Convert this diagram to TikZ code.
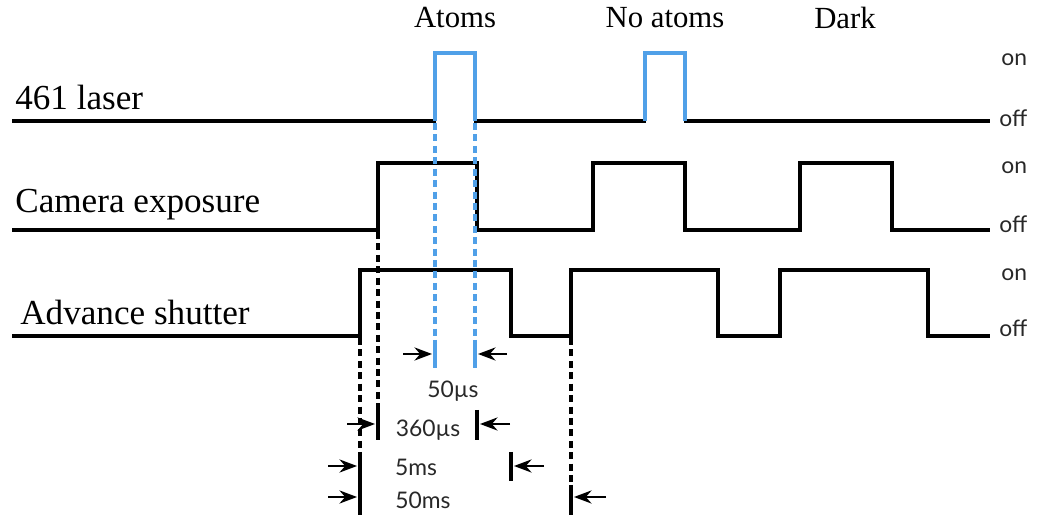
\documentclass[tikz,border=0pt]{standalone}
\usepackage{fontspec}
\setmainfont{Liberation Serif}
\newfontfamily\labfont{Lato}
\usetikzlibrary{arrows.meta}
\definecolor{pulseblue}{RGB}{80,160,232}
\definecolor{txtgray}{RGB}{40,40,40}
\begin{document}
\begin{tikzpicture}[x=0.02cm,y=-0.02cm,
  sig/.style={line width=2.2pt,line join=miter,black},
  blu/.style={line width=2pt,pulseblue},
  dsh/.style={line width=2.4pt,dash pattern=on 4pt off 2.5pt},
  bdsh/.style={line width=1.9pt,pulseblue,dash pattern=on 4pt off 2.5pt},
  tick/.style={line width=2.2pt},
  btick/.style={line width=2pt,pulseblue},
  dimarr/.style={line width=1.1pt,-{Stealth[length=10pt,width=7.5pt]}},
  rowlab/.style={font=\fontsize{20}{22}\selectfont,anchor=west,inner sep=0pt},
  toplab/.style={font=\fontsize{17.5}{20}\selectfont,inner sep=0pt},
  state/.style={font=\labfont\fontsize{13}{15}\selectfont,text=txtgray,anchor=west,inner sep=0pt},
  dimlab/.style={font=\labfont\fontsize{13}{15}\selectfont,text=txtgray,inner sep=0pt}]
\useasboundingbox (0,0) rectangle (1037,519);

% row labels
\node[rowlab] (l1) at (15,97) {461 laser};
\node[rowlab] (l2) at (15,205) {Camera exposure};
\node[rowlab] (l3) at (20,312) {Advance shutter};

% top labels
\node[toplab] (t1) at (455,18) {Atoms};
\node[toplab] (t2) at (665,18) {No atoms};
\node[toplab] (t3) at (845,18) {Dark};

% on/off labels
\node[state] (on1) at (1001,60) {on};
\node[state] (off1) at (999,118) {off};
\node[state] (on2) at (1001,168) {on};
\node[state] (off2) at (999,224) {off};
\node[state] (on3) at (1001,275) {on};
\node[state] (off3) at (999,328) {off};

% 461 laser
\draw[sig] (12,121) -- (436,121);
\draw[sig] (474,121) -- (646,121);
\draw[sig] (684,121) -- (990,121);
\draw[blu] (435,121) -- (435,53) -- (475,53) -- (475,121);
\draw[blu] (645,121) -- (645,53) -- (685,53) -- (685,121);

% camera exposure
\draw[sig] (12,230) -- (378,230) -- (378,163) -- (477,163) -- (477,230)
  -- (593,230) -- (593,163) -- (685,163) -- (685,230)
  -- (800,230) -- (800,163) -- (892,163) -- (892,230) -- (990,230);

% advance shutter
\draw[sig] (12,336) -- (360,336) -- (360,270) -- (511,270) -- (511,336)
  -- (571,336) -- (571,270) -- (718,270) -- (718,336)
  -- (780,336) -- (780,270) -- (928,270) -- (928,336) -- (990,336);

% dashed guides
\draw[bdsh] (435,123) -- (435,340);
\draw[bdsh] (475,123) -- (475,340);
\draw[btick] (435,340) -- (435,368);
\draw[btick] (475,340) -- (475,368);

\draw[dsh] (378,232) -- (378,410);
\draw[tick] (378,410) -- (378,440);
\draw[tick] (477,410) -- (477,440);

\draw[dsh] (360,338) -- (360,452);
\draw[tick] (360,452) -- (360,480);
\draw[dsh] (360,480) -- (360,485);
\draw[tick] (360,485) -- (360,515);
\draw[tick] (511,452) -- (511,481);

\draw[dsh] (571,338) -- (571,485);
\draw[tick] (571,485) -- (571,515);

% dimension arrows
\coordinate (a1s) at (403,354); \coordinate (a1e) at (432,354);
\coordinate (b1s) at (507,354); \coordinate (b1e) at (478,354);
\draw[dimarr] (a1s) -- (a1e);
\draw[dimarr] (b1s) -- (b1e);
\node[dimlab] (d1) at (453,391) {50µs};

\coordinate (a2s) at (347,424); \coordinate (a2e) at (375,424);
\coordinate (b2s) at (510,424); \coordinate (b2e) at (480,424);
\draw[dimarr] (a2s) -- (a2e);
\draw[dimarr] (b2s) -- (b2e);
\node[dimlab] (d2) at (428,430) {360µs};

\coordinate (a3s) at (328,466); \coordinate (a3e) at (357,466);
\coordinate (b3s) at (544,466); \coordinate (b3e) at (514,466);
\draw[dimarr] (a3s) -- (a3e);
\draw[dimarr] (b3s) -- (b3e);
\node[dimlab] (d3) at (416,467) {5ms};

\coordinate (a4s) at (328,497); \coordinate (a4e) at (357,497);
\coordinate (b4s) at (606,497); \coordinate (b4e) at (574,497);
\draw[dimarr] (a4s) -- (a4e);
\draw[dimarr] (b4s) -- (b4e);
\node[dimlab] (d4) at (423,500) {50ms};
\end{tikzpicture}
\end{document}
